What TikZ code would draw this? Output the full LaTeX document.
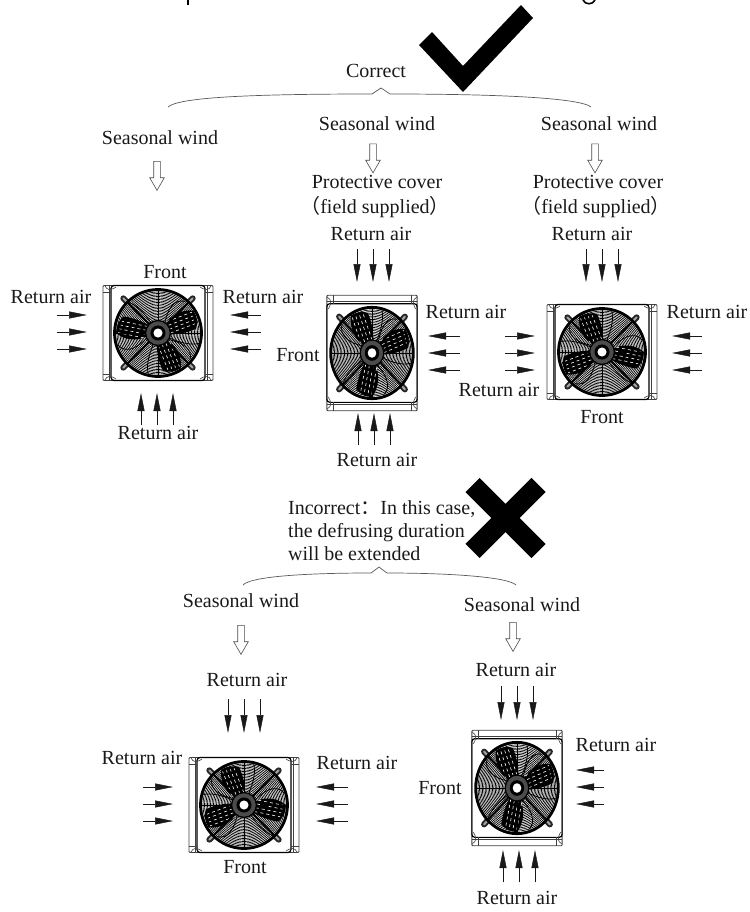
\documentclass[tikz,border=0pt]{standalone}
\usepackage{fontspec}
\setmainfont{Liberation Serif}
\newfontfamily\cjk{Noto Sans CJK SC}
\usetikzlibrary{arrows.meta, calc, shapes.arrows}
\tikzstyle{label} = [
    inner sep = 0pt,
    text = black!90,
    font = \fontsize{20}{23}\selectfont,
]
\tikzstyle{windarrow} = [
    single arrow,
    draw = black!70,
    line width = 0.6pt,
    fill = white,
    shape border rotate = 270,
    minimum height = 29pt,
    minimum width = 14pt,
    single arrow head extend = 4pt,
    single arrow head indent = 0pt,
    single arrow tip angle = 60,
    inner sep = 3pt,
]
\tikzstyle{airarrow} = [
    -{Triangle[length = 18pt, width = 7pt]},
    line width = 0.5pt,
    black!90,
]
\tikzstyle{brace} = [
    line width = 0.7pt,
    black!65,
]
\tikzset{
    pics/fan/.style = {code = {
        % frame and rails
        \draw[black!75, line width = 0.9pt, rounded corners = 1pt] (-55, -47.5) rectangle (55, 47.5);
        \draw[black!75, line width = 0.7pt] (-49, -47.5) -- (-49, 47.5);
        \draw[black!75, line width = 0.7pt] (49, -47.5) -- (49, 47.5);
        \draw[black, line width = 1.2pt, rounded corners = 3pt] (-47, -47.5) rectangle (47, 47.5);
        \foreach \sx/\sy in {1/1, 1/-1, -1/1, -1/-1} {
            \draw[black!75, line width = 0.6pt] (\sx*55, \sy*41) -- (\sx*47, \sy*41);
            \draw[black!75, line width = 0.6pt] (\sx*53, \sy*47) .. controls (\sx*51, \sy*43) and (\sx*48, \sy*42) .. (\sx*42, \sy*46);
        }
        % lugs
        \foreach \a in {45, 135, 225, 315} {
            \draw[black!85, line width = 6pt, line cap = round] (\a:40) -- (\a:49);
            \draw[black!35, line width = 2pt, line cap = round] (\a:42) -- (\a:49);
        }
        % blades
        \fill[white] (0, 0) circle [radius = 44];
        \foreach \a in {162, 14, 285} {
            \fill[rotate = \a, black] (9, -6) .. controls (17, -15) and (30, -17) .. (40, -13) .. controls (42, -6) and (41, 0) .. (38, 5) .. controls (28, 7) and (18, 6) .. (9, 4) -- cycle;
            \draw[rotate = \a, black, line width = 0.8pt] (8, 6) .. controls (20, 16) and (30, 20) .. (37, 20);
            \draw[rotate = \a, black, line width = 0.8pt] (8, -6) .. controls (14, -20) and (24, -30) .. (34, -24);
        }
        % grille
        \foreach \r in {8, 9.5, ..., 43} {
            \draw[black, line width = 0.7pt] (0, 0) circle [radius = \r];
        }
        \foreach \a in {162, 14, 285} {
            \foreach \s in {-9, -5, -1, 3} {
                \draw[rotate = \a, white, line width = 0.6pt, dash pattern = on 3pt off 3pt] (12, \s) -- (38, \s - 3);
            }
        }
        \draw[black, line width = 0.8pt] (-43, 0) -- (43, 0);
        \draw[black, line width = 0.8pt] (0, -43) -- (0, 43);
        \draw[black, line width = 1.8pt] (45:10) -- (45:44);
        \draw[black, line width = 1.8pt] (135:10) -- (135:44);
        \draw[black, line width = 1.8pt] (225:10) -- (225:44);
        \draw[black, line width = 1.8pt] (315:10) -- (315:44);
        \draw[black, line width = 2.8pt] (0, 0) circle [radius = 43.5];
        % hub
        \fill[black!70] (0, 0) circle [radius = 12.5];
        \draw[black, line width = 1.4pt] (0, 0) circle [radius = 12.5];
        \draw[black, line width = 3pt] (0, 0) circle [radius = 6];
        \fill[white] (0, 0) circle [radius = 4.5];
    }},
}
\begin{document}
\begin{tikzpicture} [x = 1pt, y = -1pt, node distance = 25pt]
    \useasboundingbox (0, 0) rectangle (749, 912);

    % cut-off heading at the top edge
    \fill[black] (187, 0) rectangle (189.2, 5);
    \draw[black, line width = 1.6pt] (583, 0) .. controls (585, 5) and (593, 5) .. (595, 0);

    % correct group
    \node (Correct) [label] at (376, 71) {Correct};
    \fill[black] (419, 45) -- (432, 32) -- (463, 66) -- (521, 5) -- (533, 18) -- (463, 92) -- cycle;
    \draw[brace] (168, 107) .. controls (178, 98) and (240, 94) .. (372, 94) -- (381, 88) -- (390, 94) .. controls (500, 94) and (580, 98) .. (591, 107);

    \node (SeasonA) [label] at (160, 138) {Seasonal wind};
    \node (WindA) [windarrow] at (157, 173) {};

    \node (SeasonB) [label] at (377, 124) {Seasonal wind};
    \node (WindB) [windarrow] at (373, 155.5) {};
    \node (CoverB) [label] at (377, 182) {Protective cover};
    \node (FieldB) [label, below of = CoverB, xshift = -2pt] {{\cjk （}field supplied{\cjk ）}};
    \node (TopB) [label] at (371, 234) {Return air};

    \node (SeasonC) [label] at (599, 124) {Seasonal wind};
    \node (WindC) [windarrow] at (595, 155.5) {};
    \node (CoverC) [label] at (598, 182) {Protective cover};
    \node (FieldC) [label, below of = CoverC, xshift = -2pt] {{\cjk （}field supplied{\cjk ）}};
    \node (TopC) [label] at (592, 234) {Return air};

    \pic (FanA) at (158, 333) {fan};
    \node (FrontA) [label] at (165, 272) {Front};
    \node (LeftA) [label] at (51, 297) {Return air};
    \node (RightA) [label] at (263, 297) {Return air};
    \node (BottomA) [label] at (158, 433) {Return air};

    \pic[rotate = 90, xscale = 1.05, yscale = 0.95] (FanB) at (372, 353) {fan};
    \node (FrontB) [label] at (298, 355) {Front};
    \node (RightB) [label] at (466, 312) {Return air};
    \node (BottomB) [label] at (377, 460) {Return air};

    \pic[rotate = 180] (FanC) at (602, 352) {fan};
    \node (FrontC) [label] at (602, 417) {Front};
    \node (LeftC) [label] at (499, 390) {Return air};
    \node (RightC) [label] at (707, 312) {Return air};

    % incorrect group
    \node (Incorrect) [label, anchor = west, align = left] at (288, 531) {Incorrect{\cjk ：}In this case,\\the defrusing duration\\will be extended};
    \draw[black, line width = 20pt] (472.5, 551) -- (538.5, 485);
    \draw[black, line width = 20pt] (472.5, 485) -- (538.5, 551);
    \draw[brace] (243, 585) .. controls (250, 577) and (300, 573) .. (371, 573) -- (379, 567) -- (387, 573) .. controls (450, 573) and (508, 577) .. (516, 585);

    \node (SeasonD) [label] at (241, 601) {Seasonal wind};
    \node (WindD) [windarrow] at (241, 637) {};
    \node (TopD) [label] at (247, 680) {Return air};

    \node (SeasonE) [label] at (522, 605) {Seasonal wind};
    \node (WindE) [windarrow] at (513, 634) {};
    \node (TopE) [label] at (516, 670) {Return air};

    \pic[rotate = 180] (FanD) at (244, 805) {fan};
    \node (FrontD) [label] at (245, 867) {Front};
    \node (LeftD) [label] at (142, 758) {Return air};
    \node (RightD) [label] at (357, 763) {Return air};

    \pic[rotate = 90, xscale = 1.05, yscale = 0.95] (FanE) at (517, 788) {fan};
    \node (FrontE) [label] at (440, 788) {Front};
    \node (RightE) [label] at (616, 745) {Return air};
    \node (BottomE) [label] at (517, 898) {Return air};

    % return air arrows, three to a group
    \foreach \name/\xa/\ya/\xb/\yb/\dx/\dy in {
        AirAl/57/315/87/315/0/17, AirAr/261/315/230/315/0/17, AirAb/141/425/141/393/16/0,
        AirBt/357/249/357/282/16/0, AirBr/460/336/428/336/0/17, AirBb/358/445/358/413/16/0,
        AirCt/586/249/586/282/16/0, AirCl/505/336/535/336/0/17, AirCr/702/336/672/336/0/17,
        AirDt/228/699/228/733/16/0, AirDl/143/787/173/787/0/17, AirDr/348/787/316/787/0/17,
        AirEt/501/686/501/720/16/0, AirEr/604/770/576/770/0/17, AirEb/503/882/503/850/16/0%
    } {
        \foreach \k in {0, 1, 2} {
            \coordinate (\name\k a) at ($(\xa, \ya) + \k*(\dx, \dy)$);
            \coordinate (\name\k b) at ($(\xb, \yb) + \k*(\dx, \dy)$);
            \draw[airarrow] (\name\k a) -- (\name\k b);
        }
    }
\end{tikzpicture}
\end{document}
